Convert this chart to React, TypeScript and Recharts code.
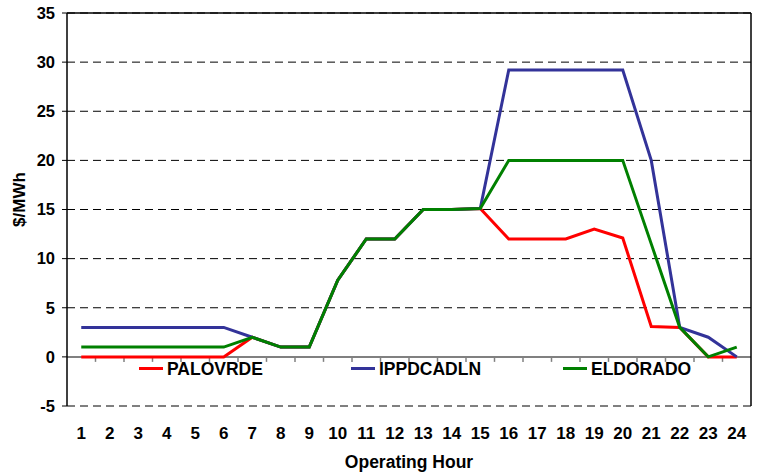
import React from 'react';
import {
  CartesianGrid,
  Legend,
  Line,
  LineChart,
  ReferenceLine,
  XAxis,
  YAxis,
} from 'recharts';

const HOURS = ['1', '2', '3', '4', '5', '6', '7', '8', '9', '10', '11', '12', '13', '14', '15', '16', '17', '18', '19', '20', '21', '22', '23', '24'];
const PALOVRDE = [0, 0, 0, 0, 0, 0, 2, 1, 1, 7.8, 12, 12, 15, 15, 15.1, 12, 12, 12, 13, 12.1, 3.1, 3, 0, 0];
const IPPDCADLN = [3, 3, 3, 3, 3, 3, 2, 1, 1, 7.8, 12, 12, 15, 15, 15.1, 29.2, 29.2, 29.2, 29.2, 29.2, 20, 3, 2, 0];
const ELDORADO = [1, 1, 1, 1, 1, 1, 2, 1, 1, 7.8, 12, 12, 15, 15, 15.1, 20, 20, 20, 20, 20, 11.5, 3, 0, 1];
const SERIES = ['PALOVRDE', 'IPPDCADLN', 'ELDORADO'];
const Y_TICKS = [-5, 0, 5, 10, 15, 20, 25, 30, 35];

const FONT = '"Liberation Sans", Arial, sans-serif';

const chartData = HOURS.map((hour, i) => ({
  hour,
  PALOVRDE: PALOVRDE[i],
  IPPDCADLN: IPPDCADLN[i],
  ELDORADO: ELDORADO[i],
}));

// zero line with tick marks between the hours
const ZeroAxis = (props: any) => {
  const { x1, y1, x2 } = props;
  const step = (x2 - x1) / HOURS.length;
  const marks = HOURS.slice(1).map((h, i) => {
    const x = x1 + step * (i + 1);
    return <line key={h} x1={x} y1={y1} x2={x} y2={y1 + 5} stroke="#808080" strokeWidth={1.5} />;
  });
  return (
    <g>
      <line x1={x1} y1={y1} x2={x2} y2={y1} stroke="#808080" strokeWidth={2} />
      {marks}
    </g>
  );
};

const LegendContent = (props: any) => {
  const items = [...(props.payload || [])].sort(
    (a: any, b: any) => SERIES.indexOf(a.value) - SERIES.indexOf(b.value),
  );
  return (
    <div style={{ display: 'flex', fontFamily: FONT, fontWeight: 'bold', fontSize: 17.5, lineHeight: '20px' }}>
      {items.map((entry: any) => (
        <div key={entry.value} style={{ width: 212, display: 'flex', alignItems: 'center' }}>
          <span style={{ display: 'inline-block', width: 24, height: 3, background: entry.color, marginRight: 4, marginTop: -2 }} />
          <span style={{ color: '#000' }}>{entry.value}</span>
        </div>
      ))}
    </div>
  );
};

const YLabel = (props: any) => {
  const { viewBox } = props;
  const x = viewBox.x + 19;
  const y = viewBox.y + viewBox.height / 2 - 10;
  return (
    <text
      x={x}
      y={y}
      transform={`rotate(-90, ${x}, ${y})`}
      textAnchor="middle"
      dominantBaseline="central"
      fontFamily={FONT}
      fontWeight="bold"
      fontSize={17}
      fill="#000"
    >
      $/MWh
    </text>
  );
};

export default function App() {
  const xTick = { fill: '#000', fontSize: 17, fontWeight: 'bold', fontFamily: FONT };
  const yTick = { fill: '#000', fontSize: 16.5, fontWeight: 'bold', fontFamily: FONT };
  return (
    <div style={{ position: 'absolute', left: 0, top: 0, background: '#fff' }}>
      <LineChart
        width={757}
        height={473}
        data={chartData}
        margin={{ top: 13, right: 0, left: 0, bottom: 0 }}
      >
        <CartesianGrid vertical={false} stroke="#000" strokeDasharray="8 5" />
        <XAxis
          dataKey="hour"
          scale="band"
          interval={0}
          height={67}
          axisLine={false}
          tickLine={false}
          tickSize={0}
          tickMargin={21}
          tick={xTick}
          label={{
            value: 'Operating Hour',
            position: 'insideBottom',
            offset: 5,
            style: { fill: '#000', fontSize: 17.5, fontWeight: 'bold', fontFamily: FONT },
          }}
        />
        <YAxis
          domain={[-5, 35]}
          ticks={Y_TICKS}
          interval={0}
          width={67}
          tickSize={5}
          tickMargin={7}
          axisLine={{ stroke: '#000', strokeWidth: 1.5 }}
          tickLine={{ stroke: '#000' }}
          tick={yTick}
          label={<YLabel />}
        />
        <YAxis
          yAxisId="right"
          orientation="right"
          domain={[-5, 35]}
          width={6}
          tick={false}
          tickLine={false}
          axisLine={{ stroke: '#000', strokeWidth: 1.5 }}
        />
        <ReferenceLine y={35} stroke="#000" strokeWidth={1.5} />
        <ReferenceLine y={0} shape={ZeroAxis} />
        <Legend
          layout="horizontal"
          verticalAlign="middle"
          align="center"
          content={<LegendContent />}
          wrapperStyle={{ top: 359, left: 139, width: 640, bottom: 'auto' }}
        />
        <Line dataKey="PALOVRDE" stroke="#ff0000" strokeWidth={3} dot={false} isAnimationActive={false} />
        <Line dataKey="IPPDCADLN" stroke="#333399" strokeWidth={3} dot={false} isAnimationActive={false} />
        <Line dataKey="ELDORADO" stroke="#008000" strokeWidth={3} dot={false} isAnimationActive={false} />
      </LineChart>
    </div>
  );
}
